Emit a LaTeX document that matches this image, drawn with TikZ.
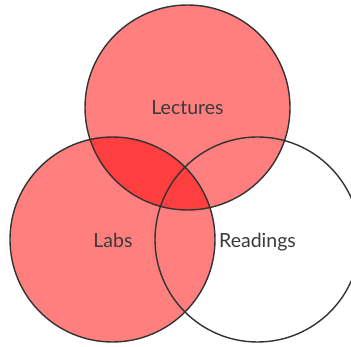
\documentclass[tikz,border=0pt]{standalone}
\usepackage{fontspec}
\setmainfont{Lato}
\definecolor{edge}{HTML}{333333}
\definecolor{lbl}{HTML}{3A3A3A}
\begin{document}
\begin{tikzpicture}[x=1pt,y=-1pt,
  setcircle/.style={circle, minimum size=205pt, inner sep=0pt},
  setfill/.style={fill=red, fill opacity=0.5},
  setline/.style={draw=edge, line width=1.4pt},
  setlabel/.style={font=\fontsize{19.5}{22}\selectfont, text=lbl, inner sep=0pt, anchor=base}]
\useasboundingbox (0,0) rectangle (351,347);
\begin{scope}
\clip (0,0) rectangle (351,347);
\node[setcircle, setfill] (lecF) at (187.5,107.5) {};
\node[setcircle, setfill] (labF) at (112.5,239.5) {};
\node[setcircle, setline] (lec) at (187.5,107.5) {};
\node[setcircle, setline] (lab) at (112.5,239.5) {};
\node[setcircle, setline] (rea) at (257.5,239.5) {};
\end{scope}
\node[setlabel] (tlec) at ([yshift=-7.5pt]lec.center) {Lectures};
\node[setlabel] (tlab) at ([xshift=0.5pt,yshift=-8.5pt]lab.center) {Labs};
\node[setlabel] (trea) at ([yshift=-8.5pt]rea.center) {Readings};
\end{tikzpicture}
\end{document}
